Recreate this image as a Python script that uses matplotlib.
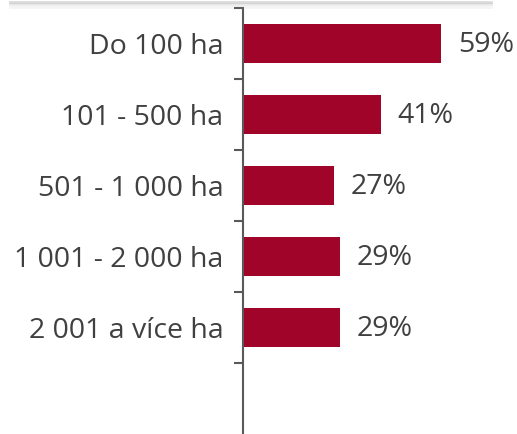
import matplotlib
matplotlib.use("Agg")
import matplotlib.pyplot as plt
from matplotlib.lines import Line2D

# data
categories = ["Do 100 ha", "101 - 500 ha", "501 - 1 000 ha", "1 001 - 2 000 ha", "2 001 a více ha", ""]
values = [59, 41, 27, 29, 29, None]
labels = ["59%", "41%", "27%", "29%", "29%", ""]

BAR = "#A10429"
TEXT = "#404040"
AXIS = "#595959"

plt.rcParams["font.family"] = ["Open Sans", "DejaVu Sans"]

fig = plt.figure(figsize=(5.17, 4.34), dpi=100)
ax = fig.add_axes([243 / 517, 0, 1 - 243 / 517, 426 / 434])

pos = list(range(len(categories)))
for i, v in enumerate(values):
    if v is None:
        continue
    ax.barh(i, v, height=0.56, color=BAR)
    ax.annotate(labels[i], (v, i), xytext=(12, -1), textcoords="offset points",
                va="center", ha="left", fontsize=20.5, color=TEXT)

ax.set_ylim(len(categories) - 0.5, -0.5)
ax.set_xlim(0, 274 / 3.36)

ax.set_yticks(pos)
ax.set_yticklabels(categories, fontsize=20.5, color=TEXT)
ax.tick_params(axis="y", which="major", length=0, pad=14)
ax.set_yticks([p - 0.5 for p in pos], minor=True)
ax.tick_params(axis="y", which="minor", length=6.5, width=1.5, color=AXIS)

for s in ["top", "right", "bottom"]:
    ax.spines[s].set_visible(False)
ax.spines["left"].set_color(AXIS)
ax.spines["left"].set_linewidth(1.5)
ax.set_xticks([])

# faint shadowed frame edge at the very top
for y, a in [(0.995, 0.35), (0.99, 0.2), (0.985, 0.1)]:
    fig.add_artist(Line2D([0.02, 0.95], [y, y], transform=fig.transFigure,
                          color="#9a9a9a", alpha=a, lw=2))

fig.savefig("out.png", dpi=100)
